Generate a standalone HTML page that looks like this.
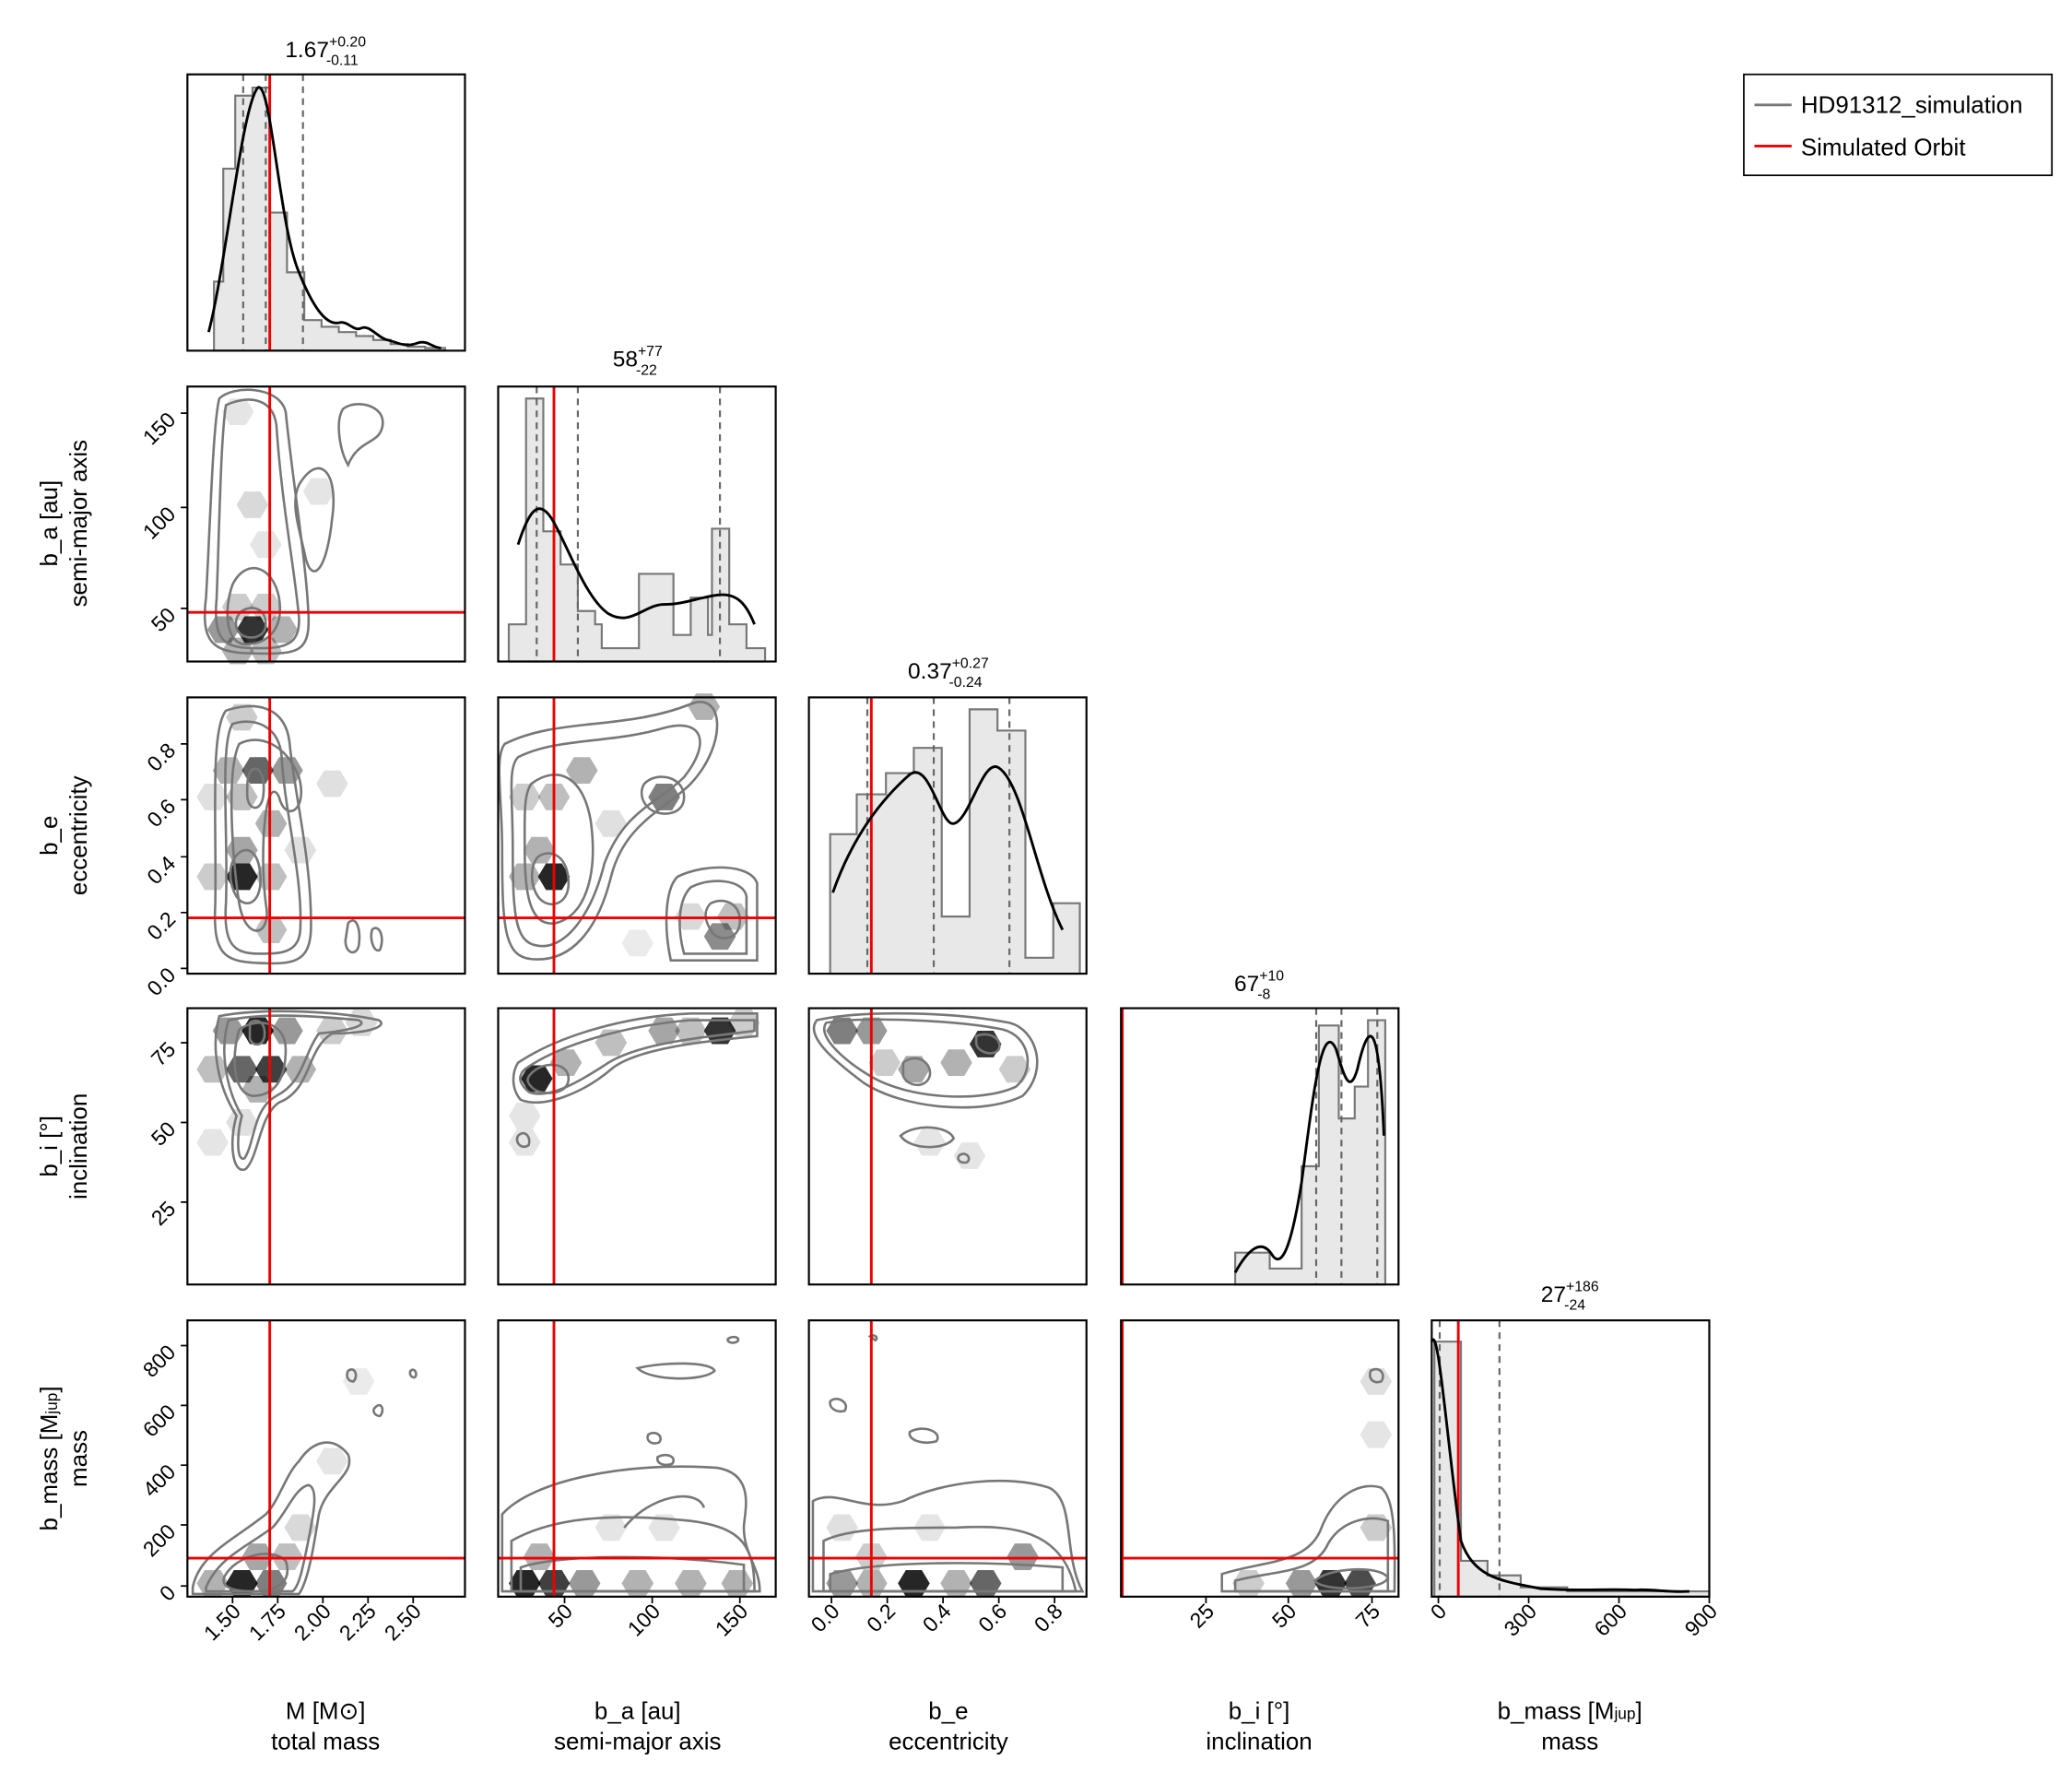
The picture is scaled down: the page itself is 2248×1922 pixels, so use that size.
<!DOCTYPE html>
<html><head><meta charset="utf-8"><style>
html,body{margin:0;padding:0;background:#fff;}
svg{display:block;}
text{font-family:"Liberation Sans",sans-serif;fill:#000;}
</style></head><body>
<svg width="2248" height="1922" viewBox="0 0 1560 1334" xmlns="http://www.w3.org/2000/svg">
<defs>
<path id="h" d="M-12,0 L-6,-10 L6,-10 L12,0 L6,10 L-6,10Z"/>
</defs>
<rect width="1560" height="1334" fill="#fff"/>

<!-- ===== Row0 col0 histogram ===== -->
<path d="M161,264 V212 H168 V127 H177 V72 H190 V66 H203 V160 H216 V205 H229 V241 H242 V246 H255 V250 H268 V253 H281 V256 H294 V259 H307 V261 H320 V262 H335 V264Z" fill="#e8e8e8" stroke="#777" stroke-width="1.5"/>
<g stroke="#666" stroke-width="1.5" stroke-dasharray="5,4"><line x1="183" y1="56" x2="183" y2="264"/><line x1="200" y1="56" x2="200" y2="264"/><line x1="228" y1="56" x2="228" y2="264"/></g>
<line x1="203" y1="56" x2="203" y2="264" stroke="#e00" stroke-width="2"/>
<path d="M157,250 C170,200 182,80 194,66 C204,60 210,170 225,205 C235,230 245,245 255,243 C262,241 266,250 272,247 C278,244 285,255 292,256 C300,258 305,262 315,258 C322,256 326,262 332,262" fill="none" stroke="#000" stroke-width="2"/>
<rect x="141" y="56" width="209" height="208" fill="none" stroke="#000" stroke-width="1.5"/>
<text x="245" y="43" font-size="17" text-anchor="middle">1.67<tspan font-size="11" dy="-8">+0.20</tspan><tspan font-size="11" dx="-30" dy="14">-0.11</tspan></text>

<!-- ===== Row1 col0 ===== -->
<g fill="#000">
<use href="#h" x="190" y="474" opacity="0.8"/><use href="#h" x="168" y="474" opacity="0.4"/><use href="#h" x="212" y="474" opacity="0.3"/>
<use href="#h" x="179" y="490" opacity="0.3"/><use href="#h" x="200" y="490" opacity="0.25"/>
<use href="#h" x="179" y="457" opacity="0.2"/><use href="#h" x="200" y="457" opacity="0.2"/>
<use href="#h" x="190" y="380" opacity="0.15"/><use href="#h" x="179" y="310" opacity="0.1"/><use href="#h" x="200" y="410" opacity="0.1"/><use href="#h" x="240" y="370" opacity="0.1"/>
</g>
<g fill="none" stroke="#777" stroke-width="1.8">
<path d="M165,300 C175,290 210,290 215,310 C220,360 230,420 232,460 C234,490 225,492 200,492 C165,492 150,490 155,450 C158,400 160,320 165,300Z"/>
<path d="M170,305 C185,298 205,298 208,320 C212,380 222,430 225,465 C226,485 215,488 195,488 C170,488 160,485 163,450 C165,400 166,330 170,305Z"/>
<path d="M175,440 C185,420 205,425 210,450 C214,475 200,485 185,485 C170,485 168,460 175,440Z"/>
<path d="M182,460 C190,455 200,458 200,470 C200,480 188,482 182,478 C176,474 176,465 182,460Z"/>
<path d="M225,365 C240,340 255,355 250,390 C246,430 235,440 230,420 C226,400 218,380 225,365Z"/>
<path d="M258,308 C268,300 290,305 288,320 C286,335 270,330 262,350 C256,340 252,318 258,308Z"/>
</g>
<line x1="203" y1="291" x2="203" y2="498" stroke="#e00" stroke-width="2"/>
<line x1="141" y1="461" x2="350" y2="461" stroke="#e00" stroke-width="2"/>
<rect x="141" y="291" width="209" height="207" fill="none" stroke="#000" stroke-width="1.5"/>

<!-- ===== Row1 col1 histogram ===== -->
<path d="M383,498 V470 H396 V300 H409 V400 H422 V425 H435 V460 H448 V470 H453 V488 H481 V432 H494 V432 H507 V478 H520 V450 H533 V478 H536 V398 H549 V470 H562 V488 H576 V498Z" fill="#e8e8e8" stroke="#777" stroke-width="1.5"/>
<g stroke="#666" stroke-width="1.5" stroke-dasharray="5,4"><line x1="404" y1="291" x2="404" y2="498"/><line x1="435" y1="291" x2="435" y2="498"/><line x1="542" y1="291" x2="542" y2="498"/></g>
<line x1="417" y1="291" x2="417" y2="498" stroke="#e00" stroke-width="2"/>
<path d="M390,410 C398,385 405,375 415,390 C425,405 440,450 458,462 C475,472 485,455 500,455 C515,455 525,450 540,448 C555,446 562,455 568,470" fill="none" stroke="#000" stroke-width="2"/>
<rect x="375" y="291" width="209" height="207" fill="none" stroke="#000" stroke-width="1.5"/>
<text x="480" y="276" font-size="17" text-anchor="middle">58<tspan font-size="11" dy="-8">+77</tspan><tspan font-size="11" dx="-20" dy="14">-22</tspan></text>

<!-- ===== Row2 col0 ===== -->
<g fill="#000">
<use href="#h" x="182" y="660" opacity="0.85"/><use href="#h" x="194" y="580" opacity="0.6"/><use href="#h" x="216" y="580" opacity="0.4"/>
<use href="#h" x="172" y="580" opacity="0.3"/><use href="#h" x="182" y="640" opacity="0.35"/><use href="#h" x="204" y="620" opacity="0.3"/>
<use href="#h" x="182" y="600" opacity="0.25"/><use href="#h" x="160" y="660" opacity="0.2"/><use href="#h" x="204" y="660" opacity="0.25"/>
<use href="#h" x="182" y="540" opacity="0.2"/><use href="#h" x="204" y="700" opacity="0.25"/><use href="#h" x="250" y="590" opacity="0.12"/><use href="#h" x="160" y="600" opacity="0.12"/><use href="#h" x="226" y="640" opacity="0.12"/>
</g>
<g fill="none" stroke="#777" stroke-width="1.8">
<path d="M170,535 C190,528 215,530 218,560 C222,600 235,650 234,700 C233,725 220,726 195,725 C168,724 160,718 162,680 C163,620 158,550 170,535Z"/>
<path d="M175,545 C190,540 210,545 212,570 C214,610 228,660 226,700 C225,718 210,718 195,718 C175,718 168,710 170,680 C172,630 165,560 175,545Z"/>
<path d="M180,560 C195,552 215,560 225,585 C232,610 215,620 210,600 C200,580 195,640 200,680 C205,705 185,710 180,680 C175,650 170,580 180,560Z"/>
<path d="M177,645 C185,635 195,640 196,660 C197,680 185,685 178,675 C172,665 172,652 177,645Z"/>
<path d="M189,580 C195,575 200,585 198,600 C196,612 186,610 186,598 C186,590 186,584 189,580Z"/>
<path d="M262,695 C268,688 272,700 270,712 C268,720 260,718 260,708Z"/>
<path d="M280,700 C285,695 290,705 286,715 C282,718 278,708 280,700Z"/>
</g>
<line x1="203" y1="525" x2="203" y2="733" stroke="#e00" stroke-width="2"/>
<line x1="141" y1="691" x2="350" y2="691" stroke="#e00" stroke-width="2"/>
<rect x="141" y="525" width="209" height="208" fill="none" stroke="#000" stroke-width="1.5"/>

<!-- ===== Row2 col1 ===== -->
<g fill="#000">
<use href="#h" x="417" y="660" opacity="0.85"/><use href="#h" x="395" y="660" opacity="0.3"/><use href="#h" x="406" y="640" opacity="0.3"/>
<use href="#h" x="438" y="580" opacity="0.3"/><use href="#h" x="417" y="600" opacity="0.25"/><use href="#h" x="500" y="600" opacity="0.5"/>
<use href="#h" x="530" y="532" opacity="0.3"/><use href="#h" x="542" y="705" opacity="0.45"/><use href="#h" x="552" y="690" opacity="0.25"/>
<use href="#h" x="395" y="600" opacity="0.2"/><use href="#h" x="460" y="620" opacity="0.12"/><use href="#h" x="520" y="690" opacity="0.15"/><use href="#h" x="480" y="710" opacity="0.08"/>
</g>
<g fill="none" stroke="#777" stroke-width="1.8">
<path d="M380,560 C420,540 470,550 520,530 C545,520 548,560 520,590 C500,610 470,620 460,660 C450,700 430,725 400,722 C380,720 378,700 378,640 C378,600 372,570 380,560Z"/>
<path d="M390,570 C420,555 460,560 500,548 C530,540 535,560 515,585 C495,605 470,610 455,650 C445,690 425,715 405,712 C388,710 386,690 386,640 C386,600 382,578 390,570Z"/>
<path d="M400,590 C420,575 440,585 445,620 C450,660 440,690 418,695 C398,698 395,670 395,640 C395,615 394,598 400,590Z"/>
<path d="M405,645 C415,638 428,645 428,665 C428,682 412,685 405,675 C399,666 399,652 405,645Z"/>
<path d="M485,590 C495,580 515,585 515,600 C515,615 495,615 488,608 C482,602 482,595 485,590Z"/>
<path d="M510,660 C530,650 565,650 570,665 V723 H505 C500,700 500,670 510,660Z"/>
<path d="M520,668 C535,660 560,662 562,675 V718 H515 C510,700 510,678 520,668Z"/>
<path d="M535,680 C545,675 558,680 557,695 C556,708 540,710 535,700 C530,692 530,685 535,680Z"/>
</g>
<line x1="417" y1="525" x2="417" y2="733" stroke="#e00" stroke-width="2"/>
<line x1="375" y1="691" x2="584" y2="691" stroke="#e00" stroke-width="2"/>
<rect x="375" y="525" width="209" height="208" fill="none" stroke="#000" stroke-width="1.5"/>

<!-- ===== Row2 col2 histogram ===== -->
<path d="M625,733 V628 H645 V598 H667 V582 H688 V563 H709 V690 H730 V534 H751 V550 H772 V721 H793 V680 H813 V733Z" fill="#e8e8e8" stroke="#777" stroke-width="1.5"/>
<g stroke="#666" stroke-width="1.5" stroke-dasharray="5,4"><line x1="653" y1="525" x2="653" y2="733"/><line x1="703" y1="525" x2="703" y2="733"/><line x1="760" y1="525" x2="760" y2="733"/></g>
<line x1="656" y1="525" x2="656" y2="733" stroke="#e00" stroke-width="2"/>
<path d="M627,672 C640,635 660,605 685,583 C700,572 708,622 718,620 C730,618 740,570 752,578 C770,590 780,660 800,700" fill="none" stroke="#000" stroke-width="2"/>
<rect x="609" y="525" width="209" height="208" fill="none" stroke="#000" stroke-width="1.5"/>
<text x="714" y="511" font-size="17" text-anchor="middle">0.37<tspan font-size="11" dy="-8">+0.27</tspan><tspan font-size="11" dx="-30" dy="14">-0.24</tspan></text>

<!-- ===== Row3 col0 ===== -->
<g fill="#000">
<use href="#h" x="194" y="776" opacity="0.85"/><use href="#h" x="182" y="805" opacity="0.6"/><use href="#h" x="204" y="805" opacity="0.75"/>
<use href="#h" x="172" y="776" opacity="0.4"/><use href="#h" x="216" y="776" opacity="0.4"/><use href="#h" x="226" y="805" opacity="0.3"/>
<use href="#h" x="160" y="805" opacity="0.25"/><use href="#h" x="194" y="820" opacity="0.3"/><use href="#h" x="250" y="776" opacity="0.2"/><use href="#h" x="272" y="770" opacity="0.15"/>
<use href="#h" x="182" y="845" opacity="0.12"/><use href="#h" x="160" y="860" opacity="0.1"/>
</g>
<g fill="none" stroke="#777" stroke-width="1.8">
<path d="M165,765 C200,758 260,762 285,768 C292,772 280,778 250,778 C230,790 235,820 210,830 C195,840 195,870 185,880 C175,885 172,860 178,840 C165,820 158,790 165,765Z"/>
<path d="M172,768 C200,762 240,765 270,768 C278,772 262,776 240,778 C228,795 228,815 208,825 C190,835 192,860 184,872 C178,875 178,855 182,840 C170,820 165,790 172,768Z"/>
<path d="M180,775 C195,765 215,770 215,790 C215,815 205,825 190,825 C175,823 174,795 180,775Z"/>
<path d="M188,770 C194,766 200,770 199,780 C198,788 190,788 188,782Z"/>
</g>
<line x1="203" y1="759" x2="203" y2="967" stroke="#e00" stroke-width="2"/>
<rect x="141" y="759" width="209" height="208" fill="none" stroke="#000" stroke-width="1.5"/>

<!-- ===== Row3 col1 ===== -->
<g fill="#000">
<use href="#h" x="404" y="812" opacity="0.85"/><use href="#h" x="426" y="800" opacity="0.3"/><use href="#h" x="542" y="776" opacity="0.8"/>
<use href="#h" x="500" y="776" opacity="0.35"/><use href="#h" x="460" y="785" opacity="0.25"/><use href="#h" x="520" y="776" opacity="0.25"/>
<use href="#h" x="395" y="840" opacity="0.1"/><use href="#h" x="560" y="770" opacity="0.2"/><use href="#h" x="395" y="860" opacity="0.1"/>
</g>
<g fill="none" stroke="#777" stroke-width="1.8">
<path d="M390,800 C420,780 470,765 520,763 H570 V780 C540,783 480,788 460,805 C440,822 410,835 392,828 C385,820 385,808 390,800Z"/>
<path d="M395,805 C420,787 470,772 520,768 H568 V776 C540,780 480,784 455,802 C435,815 412,828 398,822 C390,815 390,810 395,805Z"/>
<path d="M400,808 C410,798 428,800 428,812 C428,824 410,825 402,820 C396,815 396,812 400,808Z"/>
<path d="M390,855 C395,850 400,856 398,862 C393,866 387,860 390,855Z"/>
</g>
<line x1="417" y1="759" x2="417" y2="967" stroke="#e00" stroke-width="2"/>
<rect x="375" y="759" width="209" height="208" fill="none" stroke="#000" stroke-width="1.5"/>

<!-- ===== Row3 col2 ===== -->
<g fill="#000">
<use href="#h" x="634" y="776" opacity="0.5"/><use href="#h" x="656" y="776" opacity="0.4"/><use href="#h" x="742" y="786" opacity="0.8"/>
<use href="#h" x="688" y="805" opacity="0.35"/><use href="#h" x="720" y="800" opacity="0.3"/><use href="#h" x="764" y="805" opacity="0.2"/>
<use href="#h" x="666" y="800" opacity="0.2"/><use href="#h" x="700" y="860" opacity="0.1"/><use href="#h" x="730" y="870" opacity="0.1"/>
</g>
<g fill="none" stroke="#777" stroke-width="1.8">
<path d="M615,768 C650,760 720,762 760,770 C780,775 790,805 770,825 C740,840 680,835 650,815 C630,800 605,780 615,768Z"/>
<path d="M622,770 C650,765 720,768 755,775 C775,780 780,805 765,818 C740,830 685,828 655,810 C635,798 615,780 622,770Z"/>
<path d="M680,800 C690,792 702,800 700,810 C697,820 683,818 680,810Z"/>
<path d="M735,780 C745,776 755,782 752,790 C748,796 735,792 735,785Z"/>
<path d="M678,855 C690,845 715,848 718,857 C712,866 685,866 678,855Z"/>
<path d="M722,870 C727,866 732,872 728,875 C723,876 720,873 722,870Z"/>
</g>
<line x1="656" y1="759" x2="656" y2="967" stroke="#e00" stroke-width="2"/>
<rect x="609" y="759" width="209" height="208" fill="none" stroke="#000" stroke-width="1.5"/>

<!-- ===== Row3 col3 histogram ===== -->
<path d="M930,967 V943 H956 V955 H980 V878 H993 V772 H1008 V842 H1020 V818 H1030 V768 H1043 V967Z" fill="#e8e8e8" stroke="#777" stroke-width="1.5"/>
<g stroke="#666" stroke-width="1.5" stroke-dasharray="5,4"><line x1="991" y1="759" x2="991" y2="967"/><line x1="1010" y1="759" x2="1010" y2="967"/><line x1="1037" y1="759" x2="1037" y2="967"/></g>
<line x1="845" y1="759" x2="845" y2="967" stroke="#e00" stroke-width="2"/>
<path d="M930,958 C940,940 950,932 958,945 C965,955 972,940 980,890 C988,830 995,765 1006,790 C1012,810 1016,825 1022,805 C1030,770 1038,760 1042,855" fill="none" stroke="#000" stroke-width="2"/>
<rect x="844" y="759" width="209" height="208" fill="none" stroke="#000" stroke-width="1.5"/>
<text x="948" y="746" font-size="17" text-anchor="middle">67<tspan font-size="11" dy="-8">+10</tspan><tspan font-size="11" dx="-20" dy="14">-8</tspan></text>

<!-- ===== Row4 col0 ===== -->
<g fill="#000">
<use href="#h" x="182" y="1192" opacity="0.85"/><use href="#h" x="160" y="1192" opacity="0.3"/><use href="#h" x="204" y="1192" opacity="0.5"/>
<use href="#h" x="194" y="1172" opacity="0.35"/><use href="#h" x="216" y="1172" opacity="0.25"/><use href="#h" x="226" y="1150" opacity="0.15"/><use href="#h" x="250" y="1100" opacity="0.1"/><use href="#h" x="270" y="1040" opacity="0.08"/>
</g>
<g fill="none" stroke="#777" stroke-width="1.8">
<path d="M145,1195 C150,1170 175,1160 200,1140 C210,1130 215,1110 225,1100 C235,1085 250,1080 262,1095 C268,1110 245,1118 240,1140 C236,1165 232,1190 225,1200 H145Z"/>
<path d="M155,1195 C165,1172 185,1165 205,1150 C215,1140 222,1120 232,1118 C240,1120 236,1140 232,1160 C228,1180 225,1195 220,1198 H155Z"/>
<path d="M170,1185 C180,1170 205,1165 215,1175 C220,1190 210,1198 190,1198 C170,1198 165,1192 170,1185Z"/>
<path d="M262,1032 C267,1028 270,1036 266,1040 C262,1040 260,1036 262,1032Z"/>
<path d="M282,1060 C287,1054 290,1062 286,1066 C282,1066 280,1062 282,1060Z"/>
<path d="M309,1032 C312,1029 315,1035 312,1037 C309,1037 308,1034 309,1032Z"/>
</g>
<line x1="203" y1="994" x2="203" y2="1202" stroke="#e00" stroke-width="2"/>
<line x1="141" y1="1173" x2="350" y2="1173" stroke="#e00" stroke-width="2"/>
<rect x="141" y="994" width="209" height="208" fill="none" stroke="#000" stroke-width="1.5"/>

<!-- ===== Row4 col1 ===== -->
<g fill="#000">
<use href="#h" x="395" y="1192" opacity="0.85"/><use href="#h" x="417" y="1192" opacity="0.75"/><use href="#h" x="440" y="1192" opacity="0.4"/>
<use href="#h" x="480" y="1192" opacity="0.3"/><use href="#h" x="520" y="1192" opacity="0.3"/><use href="#h" x="555" y="1192" opacity="0.3"/>
<use href="#h" x="406" y="1172" opacity="0.3"/><use href="#h" x="460" y="1150" opacity="0.1"/><use href="#h" x="500" y="1150" opacity="0.1"/>
</g>
<g fill="none" stroke="#777" stroke-width="1.8">
<path d="M378,1140 C400,1115 470,1100 540,1105 C570,1110 560,1140 560,1150 C560,1170 572,1180 572,1198 H378Z"/>
<path d="M385,1160 C420,1140 470,1140 520,1145 C560,1150 568,1165 568,1198 H385Z"/>
<path d="M392,1180 C420,1170 500,1170 560,1178 V1198 H392Z"/>
<path d="M480,1030 C500,1025 535,1025 538,1032 C530,1040 490,1040 480,1030Z"/>
<path d="M488,1080 C494,1076 500,1082 496,1086 C490,1088 486,1084 488,1080Z"/>
<path d="M495,1097 C502,1093 510,1097 506,1102 C500,1104 494,1102 495,1097Z"/>
<path d="M548,1008 C552,1005 558,1007 555,1010 C551,1012 547,1010 548,1008Z"/>
<path d="M470,1150 C490,1125 525,1120 530,1135"/>
</g>
<line x1="417" y1="994" x2="417" y2="1202" stroke="#e00" stroke-width="2"/>
<line x1="375" y1="1173" x2="584" y2="1173" stroke="#e00" stroke-width="2"/>
<rect x="375" y="994" width="209" height="208" fill="none" stroke="#000" stroke-width="1.5"/>

<!-- ===== Row4 col2 ===== -->
<g fill="#000">
<use href="#h" x="688" y="1192" opacity="0.85"/><use href="#h" x="742" y="1192" opacity="0.6"/><use href="#h" x="634" y="1192" opacity="0.4"/>
<use href="#h" x="656" y="1192" opacity="0.3"/><use href="#h" x="720" y="1192" opacity="0.3"/><use href="#h" x="770" y="1172" opacity="0.4"/>
<use href="#h" x="656" y="1172" opacity="0.2"/><use href="#h" x="634" y="1150" opacity="0.12"/><use href="#h" x="700" y="1150" opacity="0.1"/>
</g>
<g fill="none" stroke="#777" stroke-width="1.8">
<path d="M612,1130 C630,1120 650,1140 680,1130 C710,1115 760,1110 790,1120 C810,1130 800,1170 815,1198 H612Z"/>
<path d="M620,1160 C640,1150 680,1150 720,1150 C760,1148 800,1150 810,1198 H620Z"/>
<path d="M625,1185 C660,1175 740,1175 800,1180 V1198 H625Z"/>
<path d="M625,1055 C630,1050 640,1056 636,1062 C630,1064 624,1060 625,1055Z"/>
<path d="M685,1078 C695,1072 710,1078 705,1085 C695,1088 683,1084 685,1078Z"/>
<path d="M655,1006 C658,1004 662,1007 659,1009Z"/>
</g>
<line x1="656" y1="994" x2="656" y2="1202" stroke="#e00" stroke-width="2"/>
<line x1="609" y1="1173" x2="818" y2="1173" stroke="#e00" stroke-width="2"/>
<rect x="609" y="994" width="209" height="208" fill="none" stroke="#000" stroke-width="1.5"/>

<!-- ===== Row4 col3 ===== -->
<g fill="#000">
<use href="#h" x="1002" y="1192" opacity="0.8"/><use href="#h" x="1024" y="1192" opacity="0.7"/><use href="#h" x="980" y="1192" opacity="0.4"/>
<use href="#h" x="940" y="1192" opacity="0.2"/><use href="#h" x="1036" y="1150" opacity="0.2"/><use href="#h" x="1036" y="1080" opacity="0.1"/><use href="#h" x="1036" y="1040" opacity="0.12"/>
</g>
<g fill="none" stroke="#777" stroke-width="1.8">
<path d="M920,1185 C950,1175 985,1178 995,1150 C1005,1125 1025,1115 1040,1120 C1052,1130 1050,1170 1050,1198 H920Z"/>
<path d="M930,1190 C960,1182 990,1185 1000,1162 C1010,1145 1030,1140 1045,1145 V1198 H930Z"/>
<path d="M990,1190 C1000,1180 1040,1178 1045,1188 C1040,1198 995,1198 990,1190Z"/>
<path d="M1032,1032 C1038,1028 1044,1034 1040,1040 C1034,1042 1030,1038 1032,1032Z"/>
</g>
<line x1="845" y1="994" x2="845" y2="1202" stroke="#e00" stroke-width="2"/>
<line x1="844" y1="1173" x2="1053" y2="1173" stroke="#e00" stroke-width="2"/>
<rect x="844" y="994" width="209" height="208" fill="none" stroke="#000" stroke-width="1.5"/>

<!-- ===== Row4 col4 histogram ===== -->
<path d="M1080,1202 V1010 H1100 V1175 H1120 V1186 H1145 V1195 H1180 V1198 H1287 V1202Z" fill="#e8e8e8" stroke="#777" stroke-width="1.5"/>
<g stroke="#666" stroke-width="1.5" stroke-dasharray="5,4"><line x1="1084" y1="994" x2="1084" y2="1202"/><line x1="1129" y1="994" x2="1129" y2="1202"/></g>
<line x1="1098" y1="994" x2="1098" y2="1202" stroke="#e00" stroke-width="2"/>
<path d="M1078,1010 C1083,995 1090,1090 1100,1160 C1110,1188 1130,1190 1160,1196 C1190,1198 1210,1196 1230,1197 C1245,1196 1255,1199 1272,1198" fill="none" stroke="#000" stroke-width="2"/>
<rect x="1078" y="994" width="209" height="208" fill="none" stroke="#000" stroke-width="1.5"/>
<text x="1182" y="980" font-size="17" text-anchor="middle">27<tspan font-size="11" dy="-8">+186</tspan><tspan font-size="11" dx="-26" dy="14">-24</tspan></text>

<!-- ===== Ticks ===== -->
<g stroke="#000" stroke-width="1.2">
<path d="M175,1202v5M209,1202v5M243,1202v5M277,1202v5M311,1202v5"/>
<path d="M425,1202v5M491,1202v5M557,1202v5"/>
<path d="M626,1202v5M668,1202v5M710,1202v5M752,1202v5M794,1202v5"/>
<path d="M908,1202v5M970,1202v5M1033,1202v5"/>
<path d="M1083,1202v5M1151,1202v5M1219,1202v5M1287,1202v5"/>
<path d="M141,458h-5M141,382h-5M141,311h-5"/>
<path d="M141,729h-5M141,687h-5M141,645h-5M141,602h-5M141,560h-5"/>
<path d="M141,905h-5M141,845h-5M141,785h-5"/>
<path d="M141,1194h-5M141,1148h-5M141,1103h-5M141,1058h-5M141,1013h-5"/>
</g>
<g font-size="16" text-anchor="end">
<text transform="translate(182,1214) rotate(-45)">1.50</text>
<text transform="translate(216,1214) rotate(-45)">1.75</text>
<text transform="translate(250,1214) rotate(-45)">2.00</text>
<text transform="translate(284,1214) rotate(-45)">2.25</text>
<text transform="translate(318,1214) rotate(-45)">2.50</text>
<text transform="translate(432,1214) rotate(-45)">50</text>
<text transform="translate(498,1214) rotate(-45)">100</text>
<text transform="translate(564,1214) rotate(-45)">150</text>
<text transform="translate(633,1214) rotate(-45)">0.0</text>
<text transform="translate(675,1214) rotate(-45)">0.2</text>
<text transform="translate(717,1214) rotate(-45)">0.4</text>
<text transform="translate(759,1214) rotate(-45)">0.6</text>
<text transform="translate(801,1214) rotate(-45)">0.8</text>
<text transform="translate(915,1214) rotate(-45)">25</text>
<text transform="translate(977,1214) rotate(-45)">50</text>
<text transform="translate(1040,1214) rotate(-45)">75</text>
<text transform="translate(1090,1214) rotate(-45)">0</text>
<text transform="translate(1158,1214) rotate(-45)">300</text>
<text transform="translate(1226,1214) rotate(-45)">600</text>
<text transform="translate(1294,1214) rotate(-45)">900</text>

<text transform="translate(133,464) rotate(-45)">50</text>
<text transform="translate(133,388) rotate(-45)">100</text>
<text transform="translate(133,317) rotate(-45)">150</text>
<text transform="translate(133,735) rotate(-45)">0.0</text>
<text transform="translate(133,693) rotate(-45)">0.2</text>
<text transform="translate(133,651) rotate(-45)">0.4</text>
<text transform="translate(133,608) rotate(-45)">0.6</text>
<text transform="translate(133,566) rotate(-45)">0.8</text>
<text transform="translate(133,911) rotate(-45)">25</text>
<text transform="translate(133,851) rotate(-45)">50</text>
<text transform="translate(133,791) rotate(-45)">75</text>
<text transform="translate(133,1200) rotate(-45)">0</text>
<text transform="translate(133,1154) rotate(-45)">200</text>
<text transform="translate(133,1109) rotate(-45)">400</text>
<text transform="translate(133,1064) rotate(-45)">600</text>
<text transform="translate(133,1019) rotate(-45)">800</text>
</g>

<!-- Axis labels -->
<g font-size="18" text-anchor="middle">
<text x="245" y="1294">M [M⊙]</text><text x="245" y="1317">total mass</text>
<text x="480" y="1294">b_a [au]</text><text x="480" y="1317">semi-major axis</text>
<text x="714" y="1294">b_e</text><text x="714" y="1317">eccentricity</text>
<text x="948" y="1294">b_i [°]</text><text x="948" y="1317">inclination</text>
<text x="1182" y="1294">b_mass [M<tspan font-size="12">jup</tspan>]</text><text x="1182" y="1317">mass</text>
<text transform="translate(43,394) rotate(-90)">b_a [au]</text><text transform="translate(65,394) rotate(-90)">semi-major axis</text>
<text transform="translate(43,629) rotate(-90)">b_e</text><text transform="translate(65,629) rotate(-90)">eccentricity</text>
<text transform="translate(43,863) rotate(-90)">b_i [°]</text><text transform="translate(65,863) rotate(-90)">inclination</text>
<text transform="translate(43,1098) rotate(-90)">b_mass [M<tspan font-size="12">jup</tspan>]</text><text transform="translate(65,1098) rotate(-90)">mass</text>
</g>

<!-- Legend -->
<rect x="1313" y="56" width="232" height="76" fill="#fff" stroke="#000" stroke-width="1.2"/>
<line x1="1321" y1="79" x2="1349" y2="79" stroke="#777" stroke-width="2"/>
<line x1="1321" y1="110" x2="1349" y2="110" stroke="#e00" stroke-width="2"/>
<text x="1356" y="85" font-size="18">HD91312_simulation</text>
<text x="1356" y="117" font-size="18">Simulated Orbit</text>
</svg>
</body></html>
